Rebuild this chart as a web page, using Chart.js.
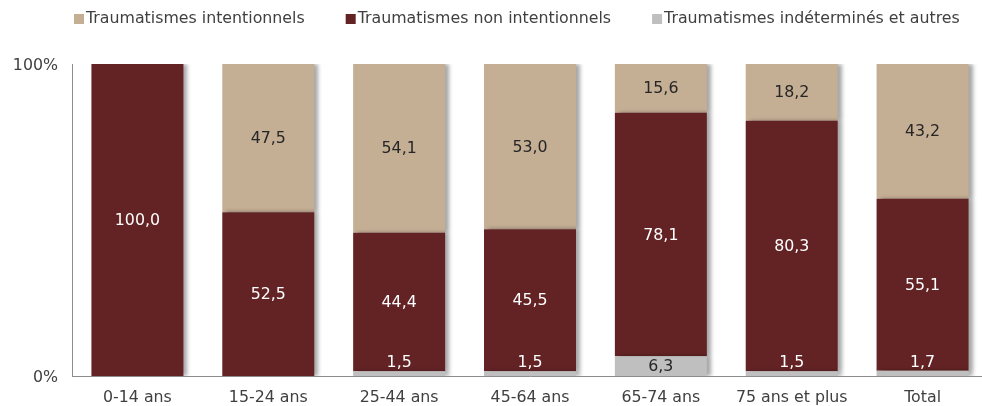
<!DOCTYPE html>
<html><head><meta charset="utf-8">
<script src="https://cdn.jsdelivr.net/npm/chart.js@4/dist/chart.umd.min.js"></script>
<style>html,body{margin:0;padding:0;background:#fff;overflow:hidden;width:982px;height:406px}
#wrap{width:988px;height:406px;position:relative}</style>
</head><body><div id="wrap"><canvas id="c" width="988" height="406"></canvas></div>
<script>
const categories = ["0-14 ans","15-24 ans","25-44 ans","45-64 ans","65-74 ans","75 ans et plus","Total"];
const indetermines = [0, 0, 1.5, 1.5, 6.3, 1.5, 1.7];
const nonIntentionnels = [100.0, 52.5, 44.4, 45.5, 78.1, 80.3, 55.1];
const intentionnels = [0, 47.5, 54.1, 53.0, 15.6, 18.2, 43.2];
const yTickLabels = {0: "0%", 100: "100%"};

const FONT = "'DejaVu Sans', Verdana, sans-serif";
const FS = 15.8;
const TXT = "#404040";
const nz = a => a.map(v => v === 0 ? null : v);

const shadowPlugin = {
  id: 'shadow',
  beforeDatasetsDraw(chart){ const c=chart.ctx; c.save(); c.shadowColor='rgba(0,0,0,0.35)'; c.shadowOffsetX=4; c.shadowOffsetY=0; c.shadowBlur=4; },
  afterDatasetsDraw(chart){ chart.ctx.restore(); }
};
const legendPlugin = {
  id: 'customLegend',
  afterDraw(chart){
    const c = chart.ctx;
    c.save();
    c.font = FS + "px " + FONT;
    c.textBaseline = 'middle'; c.textAlign = 'left';
    let x = 74; const yc = 19;
    const items = chart.data.datasets.slice().reverse();
    items.forEach(ds => {
      c.fillStyle = ds.backgroundColor;
      c.fillRect(x, yc - 5, 10, 10);
      x += 12;
      c.fillStyle = TXT;
      c.fillText(ds.label, x, yc);
      x += c.measureText(ds.label).width + 41;
    });
    c.restore();
  }
};
const labelPlugin = {
  id: 'vlabels',
  afterDatasetsDraw(chart){
    const c = chart.ctx;
    c.save();
    c.font = FS + "px " + FONT;
    c.textAlign = 'center'; c.textBaseline = 'middle';
    chart.data.datasets.forEach((ds, di) => {
      const meta = chart.getDatasetMeta(di);
      meta.data.forEach((bar, i) => {
        const v = ds.data[i];
        if (v == null) return;
        const top = Math.min(bar.y, bar.base), bot = Math.max(bar.y, bar.base);
        const h = bot - top;
        let y = (top + bot) / 2 + 1;
        let col = ds.labelColor;
        if (h < 16) { y = bot - 13; col = '#ffffff'; }
        c.fillStyle = col;
        c.fillText(v.toFixed(1).replace('.', ','), bar.x, y);
      });
    });
    c.restore();
  }
};

new Chart(document.getElementById('c'), {
  type: 'bar',
  data: {
    labels: categories,
    datasets: [
      {label: "Traumatismes indéterminés et autres", data: nz(indetermines), backgroundColor: "#BFBFBF", labelColor: "#262626"},
      {label: "Traumatismes non intentionnels", data: nz(nonIntentionnels), backgroundColor: "#632325", labelColor: "#ffffff"},
      {label: "Traumatismes intentionnels", data: nz(intentionnels), backgroundColor: "#C4AE94", labelColor: "#262626"}
    ]
  },
  options: {
    responsive: false, animation: false,
    layout: {padding: {left: 8, right: 0, top: 64, bottom: 0}},
    datasets: {bar: {barPercentage: 0.703, categoryPercentage: 1, borderWidth: 0}},
    plugins: {
      legend: {display: false},
      tooltip: {enabled: false}
    },
    scales: {
      x: {stacked: true,
        grid: {display: false, drawTicks: false},
        border: {color: '#8c8c8c'},
        afterFit(s){ s.height = 30; },
        ticks: {color: TXT, font: {family: FONT, size: FS}, padding: 12}
      },
      y: {stacked: true, min: 0, max: 100,
        grid: {display: false, drawTicks: false},
        border: {color: '#8c8c8c'},
        afterFit(s){ s.width = 64; },
        ticks: {stepSize: 100, color: TXT, font: {family: FONT, size: FS}, padding: 14, labelOffset: 2,
          callback: v => yTickLabels[v] ?? ''}
      }
    }
  },
  plugins: [shadowPlugin, labelPlugin, legendPlugin]
});
</script></body></html>
